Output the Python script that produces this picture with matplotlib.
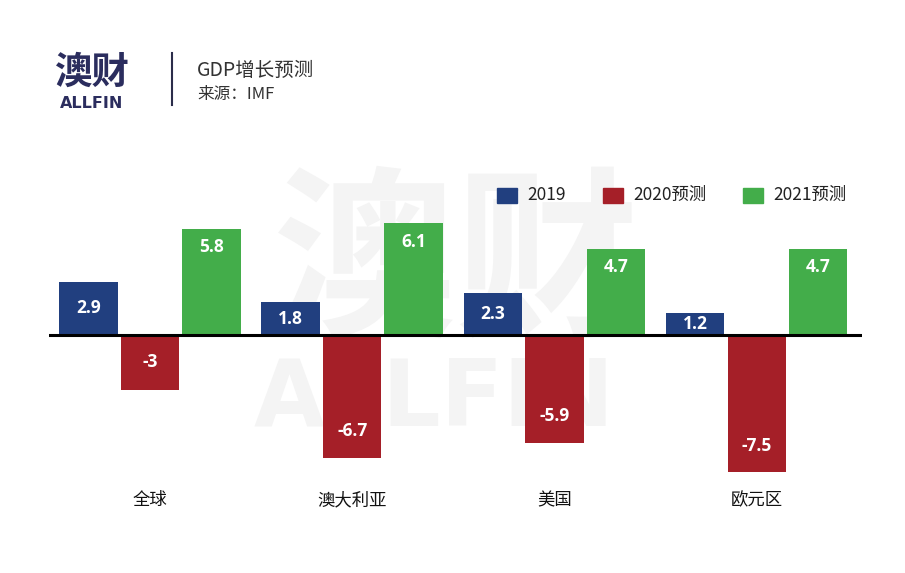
import numpy as np
import matplotlib
matplotlib.use("Agg")
import matplotlib.pyplot as plt
from matplotlib.patches import Rectangle

plt.rcParams['font.family'] = ['Noto Sans CJK SC', 'DejaVu Sans']

# data
regions = ['全球', '澳大利亚', '美国', '欧元区']
series = ['2019', '2020预测', '2021预测']
gdp_2019 = [2.9, 1.8, 2.3, 1.2]
gdp_2020 = [-3, -6.7, -5.9, -7.5]
gdp_2021 = [5.8, 6.1, 4.7, 4.7]
colors = ['#213f7f', '#a51f28', '#43ad4a']

W, H = 905, 573
fig = plt.figure(figsize=(W / 100, H / 100), dpi=100)
fig.patch.set_facecolor('white')

def fx(px):
    return px / W

def fy(py):
    return 1 - py / H

# watermark behind the chart
fig.text(fx(456), fy(268), '澳财', fontsize=132, fontweight='bold',
         color='#f4f4f4', ha='center', va='center', zorder=-2)
fig.text(fx(434), fy(400), 'ALLFIN', fontsize=66, fontweight='bold',
         color='#f4f4f4', ha='center', va='center', zorder=-2,
         family='DejaVu Sans')

ax = fig.add_axes([0.0541, 0.1599, 0.8983, 0.5268])
ax.patch.set_visible(False)

x = np.arange(len(regions))
width = 0.289
offset = 0.304
for k, (vals, c) in enumerate(zip([gdp_2019, gdp_2020, gdp_2021], colors)):
    xs = x + (k - 1) * offset
    ax.bar(xs, vals, width=width, color=c, label=series[k], zorder=2)
    for xi, v in zip(xs, vals):
        if abs(v) > 3.5:
            ty = v - 1.0 if v > 0 else v + 1.45
        else:
            ty = v / 2
        ax.text(xi, ty, str(v), ha='center', va='center', color='white',
                fontsize=12.5, fontweight='bold', family='Open Sans', zorder=3)

ax.axhline(0, color='black', lw=2.2, zorder=4)
ax.set_xlim(-0.499, 3.52)
ax.set_ylim(-8.0, 8.5)
ax.axis('off')

# category labels
for xi, name in zip(x, regions):
    ax.text(xi, -0.0616, name, transform=ax.get_xaxis_transform(),
            ha='center', va='center', fontsize=12.5, color='#111111')

# legend
leg_x = [497, 603, 743]
for lx, c, name in zip(leg_x, colors, series):
    fig.add_artist(Rectangle((fx(lx), fy(203)), fx(20), 15 / H,
                             transform=fig.transFigure, color=c))
    fig.text(fx(lx + 30), fy(195), name, fontsize=12.5, color='#222222',
             ha='left', va='center')

# header
fig.text(fx(92), fy(72), '澳财', fontsize=27, fontweight='bold',
         color='#2b2d5e', ha='center', va='center')
fig.text(fx(92), fy(103), 'ALLFIN', fontsize=11.5, fontweight='bold',
         color='#2b2d5e', ha='center', va='center', family='DejaVu Sans')
fig.add_artist(plt.Line2D([fx(172), fx(172)], [fy(53), fy(105)],
                          transform=fig.transFigure, color='#2b2d4a', lw=1.5))
fig.text(fx(197), fy(70), 'GDP增长预测', fontsize=14, color='#333333',
         ha='left', va='center')
fig.text(fx(197), fy(95), '来源：IMF', fontsize=12, color='#333333',
         ha='left', va='center')

fig.savefig('out.png', dpi=100)
